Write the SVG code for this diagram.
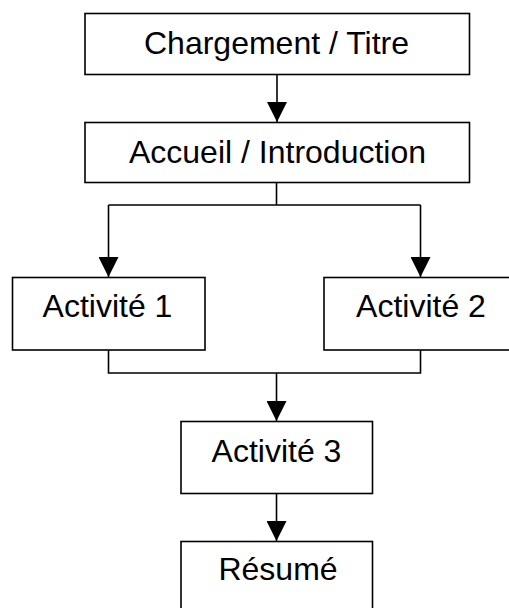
<svg xmlns="http://www.w3.org/2000/svg" width="509" height="608" viewBox="0 0 509 608">
  <style>
    .box { fill: #ffffff; stroke: #000000; stroke-width: 1.6; }
    .lbl { font-family: "Liberation Sans", Arial, sans-serif; font-size: 32px; fill: #000000; text-anchor: middle; }
    .conn { fill: none; stroke: #000000; stroke-width: 1.6; }
  </style>
  <defs>
    <marker id="arrow" markerUnits="userSpaceOnUse" markerWidth="20" markerHeight="20" refX="20" refY="10" orient="auto" viewBox="0 0 20 20">
      <path d="M0,0 L20,10 L0,20 z" fill="#000000"/>
    </marker>
  </defs>
  <rect width="509" height="608" fill="#ffffff"/>
  <g id="connectors">
    <line class="conn" x1="277" y1="74.5" x2="277" y2="122" marker-end="url(#arrow)"/>
    <polyline class="conn" points="276.5,182.5 276.5,205"/>
    <polyline class="conn" points="108.5,205 420.5,205"/>
    <line class="conn" x1="108.5" y1="205" x2="108.5" y2="277" marker-end="url(#arrow)"/>
    <line class="conn" x1="420.5" y1="205" x2="420.5" y2="277" marker-end="url(#arrow)"/>
    <polyline class="conn" points="108.5,350 108.5,373 420.5,373 420.5,350"/>
    <line class="conn" x1="276.5" y1="373" x2="276.5" y2="421" marker-end="url(#arrow)"/>
    <line class="conn" x1="276.5" y1="493.5" x2="276.5" y2="541" marker-end="url(#arrow)"/>
  </g>
  <g id="chargement">
    <rect class="box" x="85" y="13.5" width="384.5" height="61"/>
    <text class="lbl" x="276.5" y="54">Chargement / Titre</text>
  </g>
  <g id="accueil">
    <rect class="box" x="85" y="122.5" width="384.5" height="60"/>
    <text class="lbl" x="277.5" y="162.5">Accueil / Introduction</text>
  </g>
  <g id="activite1">
    <rect class="box" x="12.5" y="277.5" width="192.5" height="72.5"/>
    <text class="lbl" x="107.5" y="317">Activité 1</text>
  </g>
  <g id="activite2">
    <rect class="box" x="324" y="277.5" width="200" height="72.5"/>
    <text class="lbl" x="421" y="317">Activité 2</text>
  </g>
  <g id="activite3">
    <rect class="box" x="181" y="421.5" width="191.5" height="72"/>
    <text class="lbl" x="276.5" y="461.5">Activité 3</text>
  </g>
  <g id="resume">
    <rect class="box" x="181" y="541.5" width="191.5" height="80"/>
    <text class="lbl" x="278" y="580">Résumé</text>
  </g>
</svg>
